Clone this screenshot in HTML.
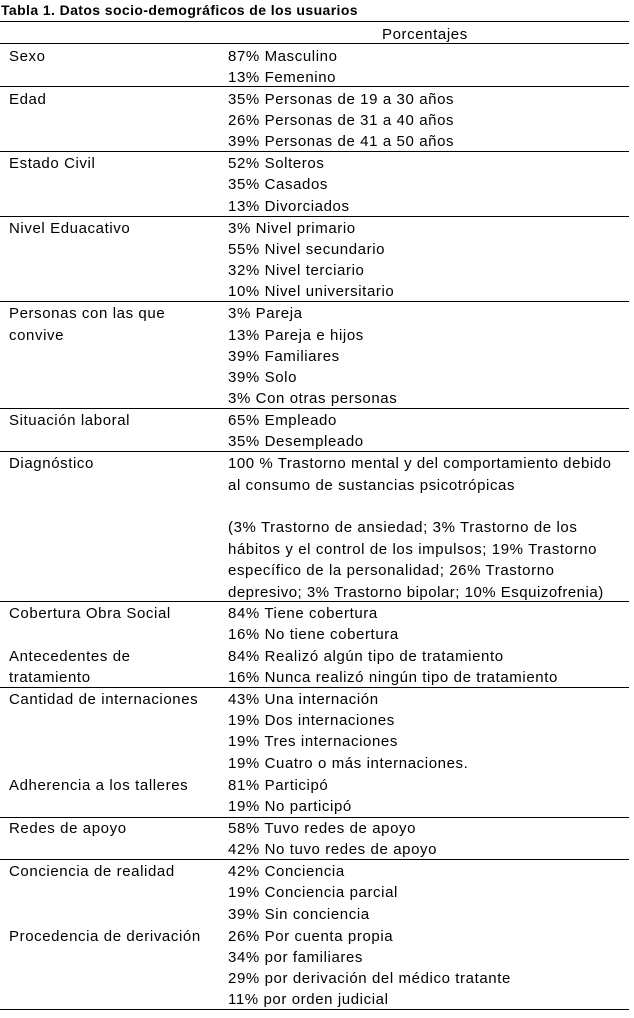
<!DOCTYPE html>
<html><head><meta charset="utf-8"><style>
body{margin:0;background:#fff;width:634px;height:1018px;position:relative;overflow:hidden;font-family:"Liberation Sans",sans-serif;color:#000}
.t{position:absolute;font-size:15px;line-height:22px;white-space:nowrap;letter-spacing:0.6px}
.h{position:absolute;left:0;width:629px;height:0;border-top:1.3px solid #000}
</style></head><body>
<div class="t" style="left:1px;top:-1px;font-weight:bold;font-size:14px;letter-spacing:0.4px">Tabla 1. Datos socio-demográficos de los usuarios</div>
<div class="t" style="left:382px;top:24px">Porcentajes</div>
<div class="h" style="top:21px"></div><div class="h" style="top:43px"></div>
<div class="h" style="top:86px"></div><div class="h" style="top:151px"></div>
<div class="h" style="top:216px"></div><div class="h" style="top:301px"></div>
<div class="h" style="top:408px"></div><div class="h" style="top:451px"></div>
<div class="h" style="top:601px"></div><div class="h" style="top:687px"></div>
<div class="h" style="top:817px"></div><div class="h" style="top:859px"></div>
<div class="h" style="top:1009px"></div>
<div class="t" style="left:9px;top:46px">Sexo</div>
<div class="t" style="left:9px;top:89px">Edad</div>
<div class="t" style="left:9px;top:153px">Estado Civil</div>
<div class="t" style="left:9px;top:218px">Nivel Eduacativo</div>
<div class="t" style="left:9px;top:303px">Personas con las que</div>
<div class="t" style="left:9px;top:325px">convive</div>
<div class="t" style="left:9px;top:410px">Situación laboral</div>
<div class="t" style="left:9px;top:453px">Diagnóstico</div>
<div class="t" style="left:9px;top:603px">Cobertura Obra Social</div>
<div class="t" style="left:9px;top:646px">Antecedentes de</div>
<div class="t" style="left:9px;top:667px">tratamiento</div>
<div class="t" style="left:9px;top:689px">Cantidad de internaciones</div>
<div class="t" style="left:9px;top:775px">Adherencia a los talleres</div>
<div class="t" style="left:9px;top:818px">Redes de apoyo</div>
<div class="t" style="left:9px;top:861px">Conciencia de realidad</div>
<div class="t" style="left:9px;top:926px">Procedencia de derivación</div>

<div class="t" style="left:228px;top:46px">87% Masculino</div>
<div class="t" style="left:228px;top:67px">13% Femenino</div>
<div class="t" style="left:228px;top:89px">35% Personas de 19 a 30 años</div>
<div class="t" style="left:228px;top:110px">26% Personas de 31 a 40 años</div>
<div class="t" style="left:228px;top:131px">39% Personas de 41 a 50 años</div>
<div class="t" style="left:228px;top:153px">52% Solteros</div>
<div class="t" style="left:228px;top:174px">35% Casados</div>
<div class="t" style="left:228px;top:196px">13% Divorciados</div>
<div class="t" style="left:228px;top:218px">3% Nivel primario</div>
<div class="t" style="left:228px;top:239px">55% Nivel secundario</div>
<div class="t" style="left:228px;top:260px">32% Nivel terciario</div>
<div class="t" style="left:228px;top:281px">10% Nivel universitario</div>
<div class="t" style="left:228px;top:303px">3% Pareja</div>
<div class="t" style="left:228px;top:325px">13% Pareja e hijos</div>
<div class="t" style="left:228px;top:346px">39% Familiares</div>
<div class="t" style="left:228px;top:367px">39% Solo</div>
<div class="t" style="left:228px;top:388px">3% Con otras personas</div>
<div class="t" style="left:228px;top:410px">65% Empleado</div>
<div class="t" style="left:228px;top:431px">35% Desempleado</div>
<div class="t" style="left:228px;top:453px;letter-spacing:0.55px">100 % Trastorno mental y del comportamiento debido</div>
<div class="t" style="left:228px;top:475px">al consumo de sustancias psicotrópicas</div>
<div class="t" style="left:228px;top:517px">(3% Trastorno de ansiedad; 3% Trastorno de los</div>
<div class="t" style="left:228px;top:539px">hábitos y el control de los impulsos; 19% Trastorno</div>
<div class="t" style="left:228px;top:560px">específico de la personalidad; 26% Trastorno</div>
<div class="t" style="left:228px;top:582px;letter-spacing:0.5px">depresivo; 3% Trastorno bipolar; 10% Esquizofrenia)</div>
<div class="t" style="left:228px;top:603px">84% Tiene cobertura</div>
<div class="t" style="left:228px;top:624px">16% No tiene cobertura</div>
<div class="t" style="left:228px;top:646px">84% Realizó algún tipo de tratamiento</div>
<div class="t" style="left:228px;top:667px">16% Nunca realizó ningún tipo de tratamiento</div>
<div class="t" style="left:228px;top:689px">43% Una internación</div>
<div class="t" style="left:228px;top:710px">19% Dos internaciones</div>
<div class="t" style="left:228px;top:731px">19% Tres internaciones</div>
<div class="t" style="left:228px;top:753px">19% Cuatro o más internaciones.</div>
<div class="t" style="left:228px;top:775px">81% Participó</div>
<div class="t" style="left:228px;top:796px">19% No participó</div>
<div class="t" style="left:228px;top:818px">58% Tuvo redes de apoyo</div>
<div class="t" style="left:228px;top:839px">42% No tuvo redes de apoyo</div>
<div class="t" style="left:228px;top:861px">42% Conciencia</div>
<div class="t" style="left:228px;top:882px">19% Conciencia parcial</div>
<div class="t" style="left:228px;top:904px">39% Sin conciencia</div>
<div class="t" style="left:228px;top:926px">26% Por cuenta propia</div>
<div class="t" style="left:228px;top:947px">34% por familiares</div>
<div class="t" style="left:228px;top:968px">29% por derivación del médico tratante</div>
<div class="t" style="left:228px;top:989px">11% por orden judicial</div>
</body></html>
